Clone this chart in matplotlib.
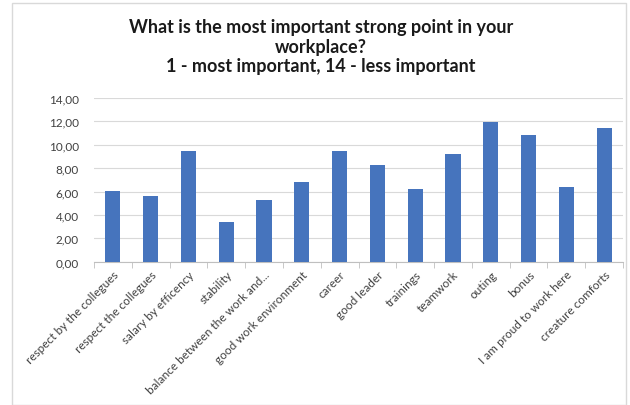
import matplotlib.pyplot as plt
from matplotlib.patches import Rectangle
from matplotlib.ticker import FuncFormatter
import numpy as np

categories = ["respect by the collegues", "respect the collegues", "salary by efficency",
              "stability", "balance between the work and...", "good work environment",
              "career", "good leader", "trainings", "teamwork", "outing", "bonus",
              "I am proud to work here", "creature comforts"]
values = [6.05, 5.65, 9.45, 3.37, 5.30, 6.80, 9.50, 8.27, 6.22, 9.21, 11.98, 10.86, 6.42, 11.41]

plt.rcParams['font.family'] = ['Lato', 'DejaVu Sans']

fig = plt.figure(figsize=(6.3, 4.06), dpi=100)
# chart border
fig.patches.append(Rectangle((12/630, 0.0), 614/630, 1 - 4/406, transform=fig.transFigure,
                             fill=False, edgecolor='#d9d9d9', linewidth=1))
ax = fig.add_axes([94/630, 1 - 262.7/406, 529/630, (262.7 - 99)/406])

x = np.arange(len(categories))
ax.bar(x, values, width=0.4, color='#4674bd', zorder=3)

ax.set_xlim(-0.5, len(categories) - 0.5)
ax.set_ylim(0, 14)
ax.set_yticks(np.arange(0, 15, 2))
ax.yaxis.set_major_formatter(FuncFormatter(lambda v, p: f"{v:.2f}".replace('.', ',')))
ax.grid(axis='y', color='#d9d9d9', linewidth=0.8, zorder=0)
for s in ['top', 'right', 'left']:
    ax.spines[s].set_visible(False)
ax.spines['bottom'].set_color('#bfbfbf')
ax.tick_params(axis='y', length=0, labelsize=8.5, labelcolor='#404040', pad=11)

ax.set_xticks(x)
ax.set_xticklabels(categories, rotation=45, ha='right', rotation_mode='anchor',
                   fontsize=8.5, color='#404040')
ax.tick_params(axis='x', length=0, pad=5)
ax.set_xticks(np.arange(-0.5, len(categories), 1), minor=True)
ax.tick_params(axis='x', which='minor', length=4, color='#bfbfbf')

title_lines = ["What is the most important strong point in your", "workplace?",
               "1 - most important, 14 - less important"]
for line, yb in zip(title_lines, [33, 53, 72]):
    fig.text(321/630, 1 - yb/406, line, ha='center', va='baseline',
             fontsize=13, fontweight='bold', color='#1a1a1a')

fig.savefig('out.png', dpi=100)
